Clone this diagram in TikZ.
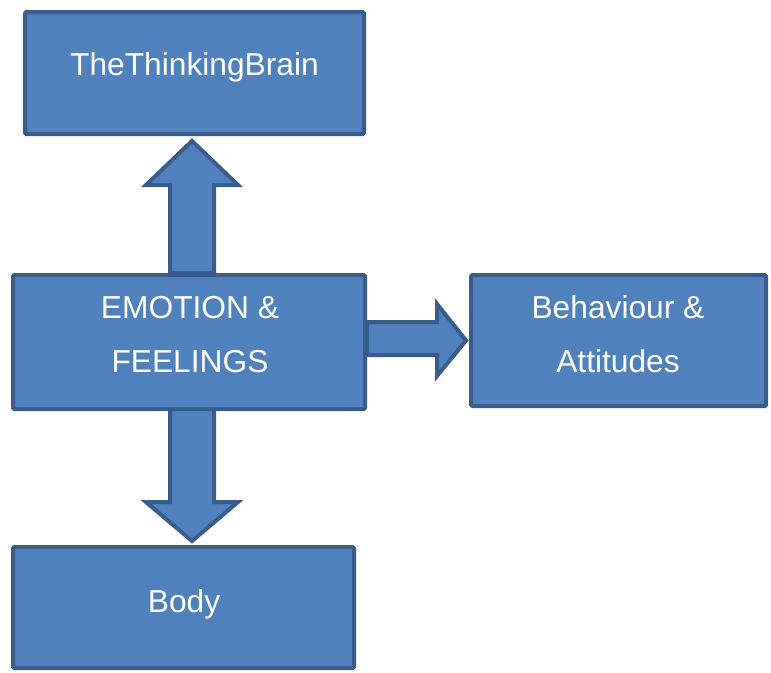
\documentclass[tikz,border=0pt]{standalone}
\usepackage{fontspec}
\setmainfont{Liberation Sans}
\usetikzlibrary{calc}
\definecolor{boxfill}{HTML}{4F81BD}
\definecolor{boxline}{HTML}{385D8A}
\begin{document}
\begin{tikzpicture}[x=0.75pt,y=-0.75pt,
  box/.style={draw=boxline,fill=boxfill,line width=3pt,rounded corners=1pt,inner sep=0pt,rectangle},
  boxtext/.style={text=white,font=\fontsize{23.8}{40.5}\selectfont,align=center,inner sep=0pt},
  blockarrow/.style={draw=boxline,fill=boxfill,line width=3pt,line join=miter,miter limit=10}]
\useasboundingbox (0,0) rectangle (771,672);
% boxes
\node[box,minimum width=254.25pt,minimum height=91.5pt] (brain) at (194.5,73) {};
\node[box,minimum width=264pt,minimum height=100.5pt] (emo) at (189,342) {};
\node[box,minimum width=221.25pt,minimum height=98.25pt] (beh) at (618.5,340.5) {};
\node[box,minimum width=255.75pt,minimum height=90.75pt] (body) at (183.5,607.5) {};
% texts (base anchor = baseline of the last line)
\node[boxtext,anchor=base] (brainT) at (194.5,75) {TheThinkingBrain};
\node[boxtext,anchor=base] (emoT) at (190,372) {EMOTION \&\\FEELINGS};
\node[boxtext,anchor=base] (behT) at (618,372) {Behaviour \&\\Attitudes};
\node[boxtext,anchor=base] (bodyT) at (184,612) {Body};
% block arrows
\draw[blockarrow] (170,0 |- emo.north) -- (170,185) -- (146,185)
  -- ($(192,0 |- brain.south)+(0,5)$) -- (238,185) -- (214,185)
  -- (214,0 |- emo.north) -- cycle;
\draw[blockarrow] (170,409) -- (214,409) -- (214,502) -- (238,502)
  -- ($(192,0 |- body.north)+(0,-4)$) -- (146,502) -- (170,502) -- cycle;
\draw[blockarrow] (emo.east |- 0,322) -- (437,322) -- (437,304)
  -- ($(beh.west)+(-3,0)$) -- (437,376) -- (437,355) -- (emo.east |- 0,355) -- cycle;
\end{tikzpicture}
\end{document}
